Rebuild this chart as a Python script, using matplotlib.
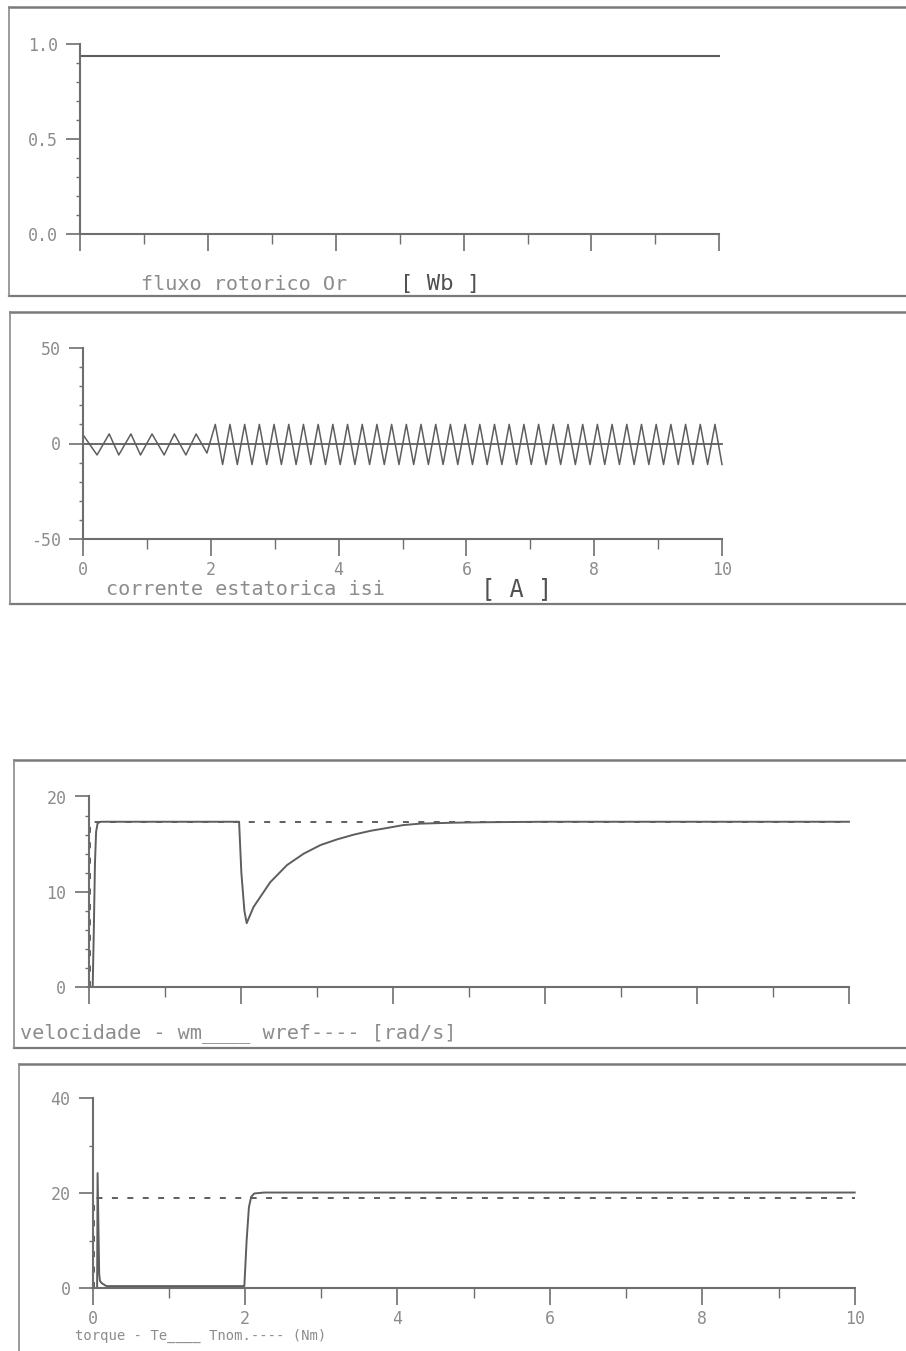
import matplotlib
matplotlib.use("Agg")
import matplotlib.pyplot as plt
from matplotlib.lines import Line2D

# ---------------- data ----------------
x_major = [0, 2, 4, 6, 8, 10]
x_major_labels = ["0", "2", "4", "6", "8", "10"]
x_minor = [1, 3, 5, 7, 9]

# rotor flux [Wb]
flux_t = [0.0, 10.0]
flux_v = [0.938, 0.938]

# stator current [A] : extrema of the oscillation
cur1_t = [0.0, 0.22, 0.41, 0.56, 0.75, 0.90, 1.08, 1.27, 1.43, 1.61, 1.77, 1.94]
cur1_v = [4.6, -6.0, 5.0, -6.0, 5.0, -6.0, 5.0, -6.0, 5.0, -6.0, 5.0, -5.0]
cur2_peak_t = [2.070, 2.300, 2.530, 2.760, 2.990, 3.220, 3.450, 3.680, 3.910, 4.140,
               4.370, 4.600, 4.830, 5.060, 5.290, 5.520, 5.750, 5.980, 6.210, 6.440,
               6.670, 6.900, 7.130, 7.360, 7.590, 7.820, 8.050, 8.280, 8.510, 8.740,
               8.970, 9.200, 9.430, 9.660, 9.890]
cur2_trough_t = [2.185, 2.415, 2.645, 2.875, 3.105, 3.335, 3.565, 3.795, 4.025, 4.255,
                 4.485, 4.715, 4.945, 5.175, 5.405, 5.635, 5.865, 6.095, 6.325, 6.555,
                 6.785, 7.015, 7.245, 7.475, 7.705, 7.935, 8.165, 8.395, 8.625, 8.855,
                 9.085, 9.315, 9.545, 9.775, 10.0]
cur2_peak_v = 10.0
cur2_trough_v = -11.0

# speed [rad/s]
wm_t = [0.0, 0.055, 0.07, 0.085, 0.10, 0.12, 0.16, 1.98, 2.01, 2.05, 2.08, 2.17, 2.39,
        2.61, 2.83, 3.05, 3.27, 3.49, 3.71, 3.93, 4.14, 4.36, 4.80, 5.24, 6.0, 10.0]
wm_v = [0.0, 0.0, 6.0, 13.0, 16.3, 17.2, 17.35, 17.35, 12.0, 8.0, 6.7, 8.4, 11.0,
        12.8, 14.0, 14.9, 15.5, 16.0, 16.4, 16.7, 17.0, 17.15, 17.25, 17.3, 17.35, 17.35]
wref_t = [0.02, 0.02, 10.0]
wref_v = [0.0, 17.35, 17.35]

# torque [Nm]
te_t = [0.0, 0.058, 0.064, 0.085, 0.095, 0.12, 0.18, 1.99, 2.02, 2.05, 2.08, 2.12,
        2.25, 10.0]
te_v = [0.0, 0.0, 24.2, 3.0, 1.5, 1.0, 0.4, 0.4, 10.0, 17.0, 19.2, 19.9, 20.1, 20.1]
tnom_t = [0.02, 0.02, 10.0]
tnom_v = [0.0, 18.9, 18.9]

# ---------------- style ----------------
W, H = 906, 1351
plt.rcParams['lines.scale_dashes'] = False
MONO = 'DejaVu Sans Mono'
AXC = '#6e6e6e'
LNC = '#5e5e5e'
TXC = '#8c8c8c'
FRC = '#8a8a8a'
DASH = (4.3, 6.8)

fig = plt.figure(figsize=(W / 100, H / 100), dpi=100)
fig.patch.set_facecolor('white')


def add_ax(x0, x1, ytop, ybot):
    ax = fig.add_axes([x0 / W, 1 - ybot / H, (x1 - x0) / W, (ybot - ytop) / H])
    ax.patch.set_alpha(0)
    return ax


def style(ax, ylim, yticks, ylabels, yminor, xlabels):
    ax.set_xlim(0, 10)
    ax.set_ylim(*ylim)
    for s in ['top', 'right']:
        ax.spines[s].set_visible(False)
    for s in ['left', 'bottom']:
        ax.spines[s].set_color(AXC)
        ax.spines[s].set_linewidth(1.5)
    ax.set_xticks(x_major)
    ax.set_xticks(x_minor, minor=True)
    ax.set_xticklabels(x_major_labels if xlabels else [])
    ax.set_yticks(yticks)
    ax.set_yticklabels(ylabels)
    ax.set_yticks(yminor, minor=True)
    ax.tick_params(axis='x', which='major', direction='out', length=12.5, width=1.2,
                   color=AXC, pad=3, labelsize=12, labelcolor=TXC)
    ax.tick_params(axis='x', which='minor', direction='out', length=7.5, width=1.0,
                   color=AXC)
    ax.tick_params(axis='y', which='major', direction='out', length=10, width=1.2,
                   color=AXC, pad=6, labelsize=12, labelcolor=TXC)
    ax.tick_params(axis='y', which='minor', direction='out', length=3, width=1.0,
                   color=AXC)
    for lab in ax.get_xticklabels() + ax.get_yticklabels():
        lab.set_family(MONO)


# panel 1 : rotor flux
ax1 = add_ax(80, 719.3, 44, 234)
style(ax1, (0, 1.0), [0, 0.5, 1.0], ["0.0", "0.5", "1.0"],
      [0.1, 0.2, 0.3, 0.4, 0.6, 0.7, 0.8, 0.9], False)
ax1.plot(flux_t, flux_v, color=LNC, lw=1.5, clip_on=False)

# panel 2 : stator current
ax2 = add_ax(83, 722, 348, 539)
style(ax2, (-50, 50), [-50, 0, 50], ["-50", "0", "50"],
      [-40, -30, -20, -10, 10, 20, 30, 40], True)
pts = sorted([(t, cur2_peak_v) for t in cur2_peak_t] +
             [(t, cur2_trough_v) for t in cur2_trough_t])
cur_t = cur1_t + [p[0] for p in pts]
cur_v = cur1_v + [p[1] for p in pts]
ax2.plot([0, 10], [0, 0], color=LNC, lw=1.3, clip_on=False)
ax2.plot(cur_t, cur_v, color=LNC, lw=1.1, clip_on=False)

# panel 3 : speed
ax3 = add_ax(88.5, 849, 796.5, 987)
style(ax3, (0, 20), [0, 10, 20], ["0", "10", "20"],
      [2, 4, 6, 8, 12, 14, 16, 18], False)
ax3.plot(wref_t, wref_v, color=LNC, lw=1.4, dashes=DASH, clip_on=False)
ax3.plot(wm_t, wm_v, color=LNC, lw=1.4, clip_on=False)

# panel 4 : torque
ax4 = add_ax(92.7, 854.7, 1098, 1288)
style(ax4, (0, 40), [0, 20, 40], ["0", "20", "40"], [10, 30], True)
ax4.plot(tnom_t, tnom_v, color=LNC, lw=1.4, dashes=DASH, clip_on=False)
ax4.plot(te_t, te_v, color=LNC, lw=1.4, clip_on=False)

# ---------------- frames ----------------
def hline(y, x0, x1, c=FRC, lw=1.4):
    fig.add_artist(Line2D([x0 / W, x1 / W], [1 - y / H, 1 - y / H], color=c, lw=lw))


def vline(x, y0, y1, c=FRC, lw=1.2):
    fig.add_artist(Line2D([x / W, x / W], [1 - y0 / H, 1 - y1 / H], color=c, lw=lw))


for (left, top, bot) in [(9, 7, 296), (10, 312, 604), (14, 760, 1048), (19, 1064, 1400)]:
    hline(top, left, W + 5, c='#7a7a7a', lw=1.8)
    if bot < H:
        hline(bot, left, W + 5, c='#7a7a7a', lw=1.6)
    vline(left, top, min(bot, H + 5))

# ---------------- texts ----------------
fig.text(141 / W, 1 - 285 / H, "fluxo rotorico Or", ha='left', va='center',
         fontsize=14.5, family=MONO, color=TXC)
fig.text(440 / W, 1 - 284 / H, "[ Wb ]", ha='center', va='center',
         fontsize=16, family=MONO, color='#505050')
fig.text(106 / W, 1 - 590 / H, "corrente estatorica isi", ha='left', va='center',
         fontsize=14.5, family=MONO, color=TXC)
fig.text(517 / W, 1 - 589 / H, "[ A ]", ha='center', va='center',
         fontsize=17, family=MONO, color='#505050')
fig.text(20 / W, 1 - 1033 / H, "velocidade - wm____ wref---- [rad/s]", ha='left',
         va='center', fontsize=14.5, family=MONO, color=TXC)
fig.text(75 / W, 1 - 1336 / H, "torque - Te____ Tnom.---- (Nm)", ha='left',
         va='center', fontsize=10, family=MONO, color=TXC)

fig.savefig("out.png", dpi=100, facecolor='white')
